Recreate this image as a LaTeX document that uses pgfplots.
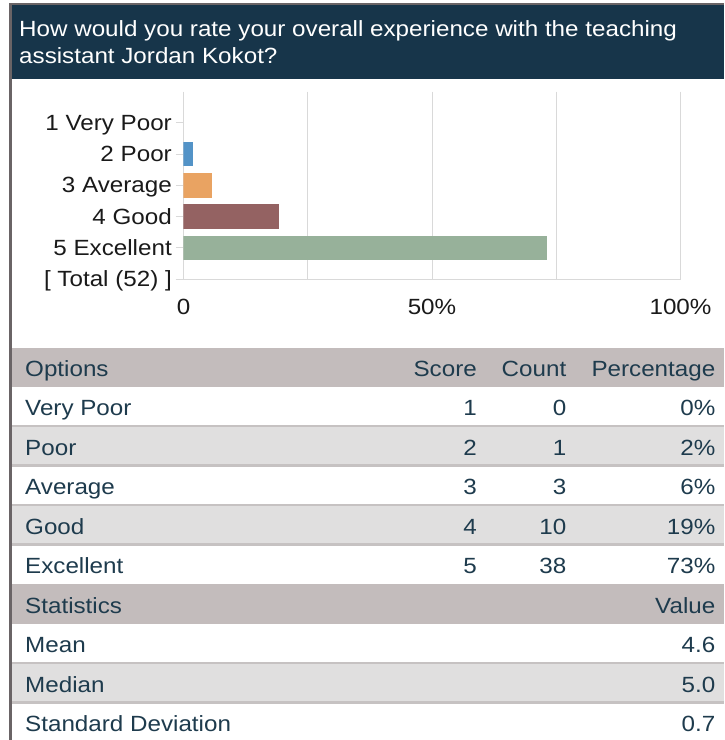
\documentclass[border=0pt]{standalone}
\usepackage{pgfplots}
\pgfplotsset{compat=1.18}
\usepackage{fontspec}
\setmainfont{Liberation Sans}[FakeStretch=1.1]
\definecolor{band}{HTML}{17354A}
\definecolor{bord}{HTML}{6A6466}
\definecolor{hdr}{HTML}{C3BCBC}
\definecolor{lrow}{HTML}{E0DFDF}
\definecolor{sep}{HTML}{C6C2C2}
\definecolor{tabtext}{HTML}{1E3B4D}
\definecolor{gridc}{HTML}{D9D9D9}
\definecolor{labc}{HTML}{1A1A1A}
\definecolor{cpoor}{HTML}{5393C7}
\definecolor{cavg}{HTML}{E9A362}
\definecolor{cgood}{HTML}{946262}
\definecolor{cexc}{HTML}{97B19A}
\newcommand{\tf}{\fontsize{22}{26}\selectfont}
\begin{document}
\begin{tikzpicture}[font=\tf]
\useasboundingbox (0,0) rectangle (724pt,-740pt);
\fill[white] (0,0) rectangle (724pt,-740pt);
% borders and title band
\fill[bord] (9pt,-3pt) rectangle (724pt,-5pt);
\fill[bord] (9pt,-3pt) rectangle (11.5pt,-740pt);
\fill[band] (11.5pt,-5pt) rectangle (724pt,-79pt);
\node[anchor=base west, inner sep=0pt, text=white] at (19pt,-36.7pt) {How would you rate your overall experience with the teaching};
\node[anchor=base west, inner sep=0pt, text=white] at (19pt,-63.3pt) {assistant Jordan Kokot?};
% table backgrounds
\fill[hdr] (12pt,-347.5pt) rectangle (724pt,-386.5pt);
\fill[lrow] (12pt,-426pt) rectangle (724pt,-465.5pt);
\fill[lrow] (12pt,-505pt) rectangle (724pt,-544.5pt);
\fill[hdr] (12pt,-584pt) rectangle (724pt,-623.5pt);
\fill[lrow] (12pt,-663pt) rectangle (724pt,-702.5pt);
\foreach \yy in {426,465.5,505,544.5,663,702.5}{
  \fill[sep] (12pt,-\yy pt+1.3pt) rectangle (724pt,-\yy pt-1.3pt);
}
% table text
\begin{scope}[every node/.style={inner sep=0pt, text=tabtext}]
\node[anchor=base west] at (25pt,-376pt) {Options};
\node[anchor=base east] at (477pt,-376pt) {Score};
\node[anchor=base east] at (566.5pt,-376pt) {Count};
\node[anchor=base east] at (715.5pt,-376pt) {Percentage};
\foreach \nm/\sc/\ct/\pc [count=\i] in {Very Poor/1/0/0\%,Poor/2/1/2\%,Average/3/3/6\%,Good/4/10/19\%,Excellent/5/38/73\%}{
  \pgfmathsetmacro{\bl}{376+39.5*\i}
  \node[anchor=base west] at (25pt,-\bl pt) {\nm};
  \node[anchor=base east] at (477pt,-\bl pt) {\sc};
  \node[anchor=base east] at (566.5pt,-\bl pt) {\ct};
  \node[anchor=base east] at (715.5pt,-\bl pt) {\pc};
}
\node[anchor=base west] at (25pt,-613pt) {Statistics};
\node[anchor=base east] at (715.5pt,-613pt) {Value};
\node[anchor=base west] at (25pt,-652.5pt) {Mean};
\node[anchor=base east] at (715.5pt,-652.5pt) {4.6};
\node[anchor=base west] at (25pt,-692pt) {Median};
\node[anchor=base east] at (715.5pt,-692pt) {5.0};
\node[anchor=base west] at (25pt,-731.5pt) {Standard Deviation};
\node[anchor=base east] at (715.5pt,-731.5pt) {0.7};
\end{scope}
% chart
\begin{axis}[
  at={(183.5pt,-279pt)}, anchor=south west,
  scale only axis, width=497pt, height=187.5pt,
  xmin=0, xmax=100, ymin=-1, ymax=5, y dir=reverse,
  xbar, bar width=24.5pt, bar shift=0pt,
  axis line style={draw=none},
  xtick={0,25,50,75,100}, xticklabels={0,,50\%,,100\%},
  xmajorgrids, grid style={color=gridc, line width=0.9pt},
  ytick={0,1,2,3,4,5},
  yticklabels={1 Very Poor,2 Poor,3 Average,4 Good,5 Excellent,{[ Total (52) ]}},
  extra y ticks={5}, extra y tick labels={},
  extra y tick style={ymajorgrids=true},
  ytick pos=left,
  tick align=outside, major tick length=7.5pt,
  xtick style={draw=none},
  ytick style={color=gridc, line width=0.9pt},
  xticklabel style={font=\tf, text=labc, anchor=base, inner sep=0pt, yshift=-28pt},
  yticklabel style={font=\tf, text=labc, anchor=base east, inner sep=0pt, xshift=-4pt, yshift=-7.5pt},
]
\addplot[fill=cpoor, draw=none] coordinates {(1.92,1)};
\addplot[fill=cavg, draw=none] coordinates {(5.77,2)};
\addplot[fill=cgood, draw=none] coordinates {(19.23,3)};
\addplot[fill=cexc, draw=none] coordinates {(73.08,4)};
\end{axis}
\end{tikzpicture}
\end{document}
